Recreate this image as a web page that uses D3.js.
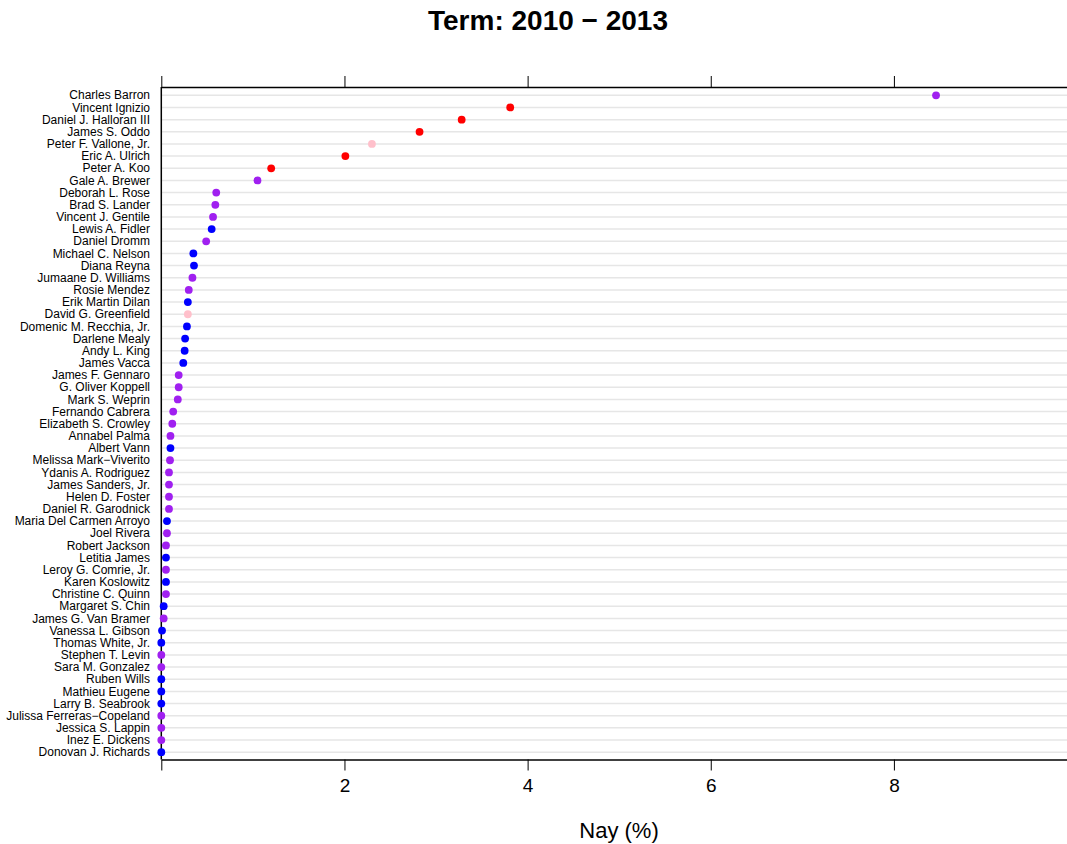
<!DOCTYPE html>
<html>
<head>
<meta charset="utf-8">
<script src="https://cdn.jsdelivr.net/npm/d3@7"></script>
<style>
  body { margin: 0; background: #fff; }
  text { font-family: "Liberation Sans", Arial, sans-serif; }
</style>
</head>
<body>
<svg width="1067" height="844"></svg>
<script>
// council members, top to bottom
var names = ["Charles Barron", "Vincent Ignizio", "Daniel J. Halloran III", "James S. Oddo",
  "Peter F. Vallone, Jr.", "Eric A. Ulrich", "Peter A. Koo", "Gale A. Brewer", "Deborah L. Rose",
  "Brad S. Lander", "Vincent J. Gentile", "Lewis A. Fidler", "Daniel Dromm", "Michael C. Nelson",
  "Diana Reyna", "Jumaane D. Williams", "Rosie Mendez", "Erik Martin Dilan", "David G. Greenfield",
  "Domenic M. Recchia, Jr.", "Darlene Mealy", "Andy L. King", "James Vacca", "James F. Gennaro",
  "G. Oliver Koppell", "Mark S. Weprin", "Fernando Cabrera", "Elizabeth S. Crowley", "Annabel Palma",
  "Albert Vann", "Melissa Mark\u2212Viverito", "Ydanis A. Rodriguez", "James Sanders, Jr.",
  "Helen D. Foster", "Daniel R. Garodnick", "Maria Del Carmen Arroyo", "Joel Rivera",
  "Robert Jackson", "Letitia James", "Leroy G. Comrie, Jr.", "Karen Koslowitz", "Christine C. Quinn",
  "Margaret S. Chin", "James G. Van Bramer", "Vanessa L. Gibson", "Thomas White, Jr.",
  "Stephen T. Levin", "Sara M. Gonzalez", "Ruben Wills", "Mathieu Eugene", "Larry B. Seabrook",
  "Julissa Ferreras\u2212Copeland", "Jessica S. Lappin", "Inez E. Dickens", "Donovan J. Richards"];

var nay = [8.46, 3.81, 3.28, 2.82, 2.30, 2.01, 1.20, 1.05, 0.60,
  0.59, 0.565, 0.55, 0.49, 0.35,
  0.357, 0.34, 0.30, 0.29, 0.29,
  0.28, 0.26, 0.255, 0.24, 0.19,
  0.19, 0.18, 0.13, 0.12, 0.10,
  0.10, 0.095, 0.084, 0.084,
  0.084, 0.084, 0.062, 0.062,
  0.051, 0.051, 0.051, 0.051, 0.051,
  0.026, 0.026, 0.008, 0.0,
  0.0, 0.0, 0.0, 0.0, 0.0,
  0.0, 0.0, 0.0, 0.0];

var group = ["purple", "red", "red", "red", "pink", "red", "red", "purple", "purple",
  "purple", "purple", "blue", "purple", "blue",
  "blue", "purple", "purple", "blue", "pink",
  "blue", "blue", "blue", "blue", "purple",
  "purple", "purple", "purple", "purple", "purple",
  "blue", "purple", "purple", "purple",
  "purple", "purple", "blue", "purple",
  "purple", "blue", "purple", "blue", "purple",
  "blue", "purple", "blue", "blue",
  "purple", "purple", "blue", "blue", "blue",
  "purple", "purple", "purple", "blue"];

var xTicks = [0, 2, 4, 6, 8];

var colors = {red: "#ff0000", blue: "#0000ff", purple: "#a020f0", pink: "#ffc0cb"};

var data = names.map(function(n, i) { return {name: n, nay: nay[i], group: group[i]}; });

var svg = d3.select("svg"),
  plotLeft = 161.3, plotRight = 1067, plotTop = 87, plotBottom = 759.5;

var x = d3.scaleLinear().domain([0, 9.89]).range([plotLeft, plotRight]);
var y = d3.scalePoint().domain(names).range([plotTop + 1, plotBottom]).padding(0.6);

// title
svg.append("text")
  .attr("x", 548).attr("y", 30)
  .attr("text-anchor", "middle")
  .style("font-size", "28px").style("font-weight", "bold")
  .text("Term: 2010 \u2212 2013");

// row guides
svg.append("g").selectAll("line")
  .data(names)
  .enter().append("line")
    .attr("x1", plotLeft).attr("x2", plotRight)
    .attr("y1", function(d) { return y(d); })
    .attr("y2", function(d) { return y(d); })
    .attr("stroke", "#e6e6e6").attr("stroke-width", 1.5);

// name labels
svg.append("g").selectAll("text")
  .data(names)
  .enter().append("text")
    .attr("x", 150)
    .attr("y", function(d) { return y(d); })
    .attr("dy", "0.35em")
    .attr("text-anchor", "end")
    .style("font-size", "12px")
    .text(function(d) { return d; });

// axes
var axisBottom = svg.append("g")
  .attr("transform", "translate(0," + plotBottom + ")")
  .call(d3.axisBottom(x).tickValues(xTicks).tickSize(11).tickSizeOuter(0).tickPadding(8)
    .tickFormat(function(d) { return d === 0 ? "" : d; }));
axisBottom.select(".domain").attr("stroke-width", 1.5);
axisBottom.selectAll("text").style("font-size", "19px")
  .style("font-family", "Liberation Sans, Arial, sans-serif");

var axisTop = svg.append("g")
  .attr("transform", "translate(0," + plotTop + ")")
  .call(d3.axisTop(x).tickValues(xTicks).tickSize(11).tickSizeOuter(0).tickFormat(""));
axisTop.select(".domain").attr("stroke-width", 1.5);

svg.append("line")
  .attr("x1", plotLeft).attr("x2", plotLeft)
  .attr("y1", plotTop).attr("y2", plotBottom)
  .attr("stroke", "#000").attr("stroke-width", 1.5);

// points
svg.append("g").selectAll("circle")
  .data(data)
  .enter().append("circle")
    .attr("cx", function(d) { return x(d.nay); })
    .attr("cy", function(d) { return y(d.name); })
    .attr("r", 3.9)
    .attr("fill", function(d) { return colors[d.group]; });

// x label
svg.append("text")
  .attr("x", 619).attr("y", 838)
  .attr("text-anchor", "middle")
  .style("font-size", "22px")
  .text("Nay (%)");
</script>
</body>
</html>
